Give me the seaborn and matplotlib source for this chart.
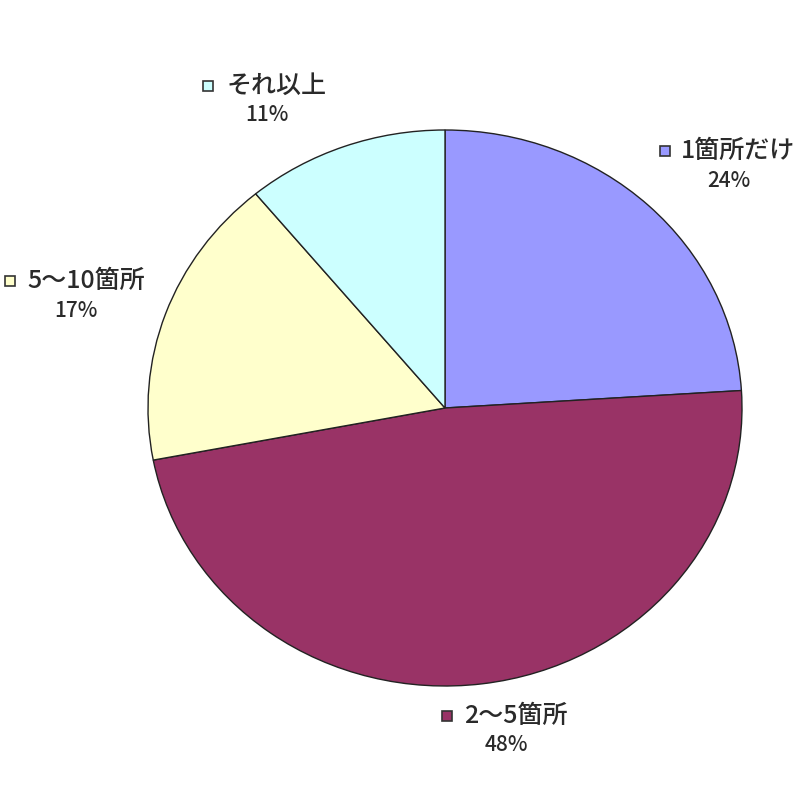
import matplotlib
matplotlib.use('Agg')
import matplotlib.pyplot as plt
import seaborn as sns

categories = ['1箇所だけ', '2～5箇所', '5～10箇所', 'それ以上']
shares = [24, 48, 17, 11]
colors = ['#9999FF', '#993366', '#FFFFCC', '#CCFFFF']

# label layout in pixels (square key x, text centre x, first line y, second line y)
label_px = [
    (665, 738, 151, 181),
    (447, 516, 716, 745),
    (10, 86, 281, 311),
    (208, 277, 86, 115),
]

sns.set_theme(style='white')
plt.rcParams['font.family'] = ['Noto Sans CJK JP', 'DejaVu Sans']

W = H = 800
fig = plt.figure(figsize=(8, 8), dpi=100)
ax = fig.add_axes([0, 0, 1, 1])

cx, cy, rx, ry = 445, 408, 297, 278
ax.pie(shares, colors=colors, startangle=90, counterclock=False,
       wedgeprops=dict(edgecolor='#222222', linewidth=1.0))
ax.set_aspect('auto')
ax.set_xlim(-cx / rx, (W - cx) / rx)
ax.set_ylim(-(H - cy) / ry, cy / ry)
ax.axis('off')

for cat, val, col, (kx, tx, y1, y2) in zip(categories, shares, colors, label_px):
    fig.text(tx / W, 1 - y1 / H, cat, ha='center', va='center',
             fontsize=18, fontweight='medium', color='#2a2a2a')
    fig.text(tx / W - 0.012, 1 - y2 / H, f'{val}%', ha='center', va='center',
             fontsize=15, fontweight='medium', color='#2a2a2a')
    fig.patches.append(plt.Rectangle(((kx - 5) / W, 1 - (y1 + 5) / H), 10 / W, 10 / H,
                                     transform=fig.transFigure, facecolor=col,
                                     edgecolor='#333333', linewidth=1.2))

fig.savefig('out.png', dpi=100, facecolor='white')
